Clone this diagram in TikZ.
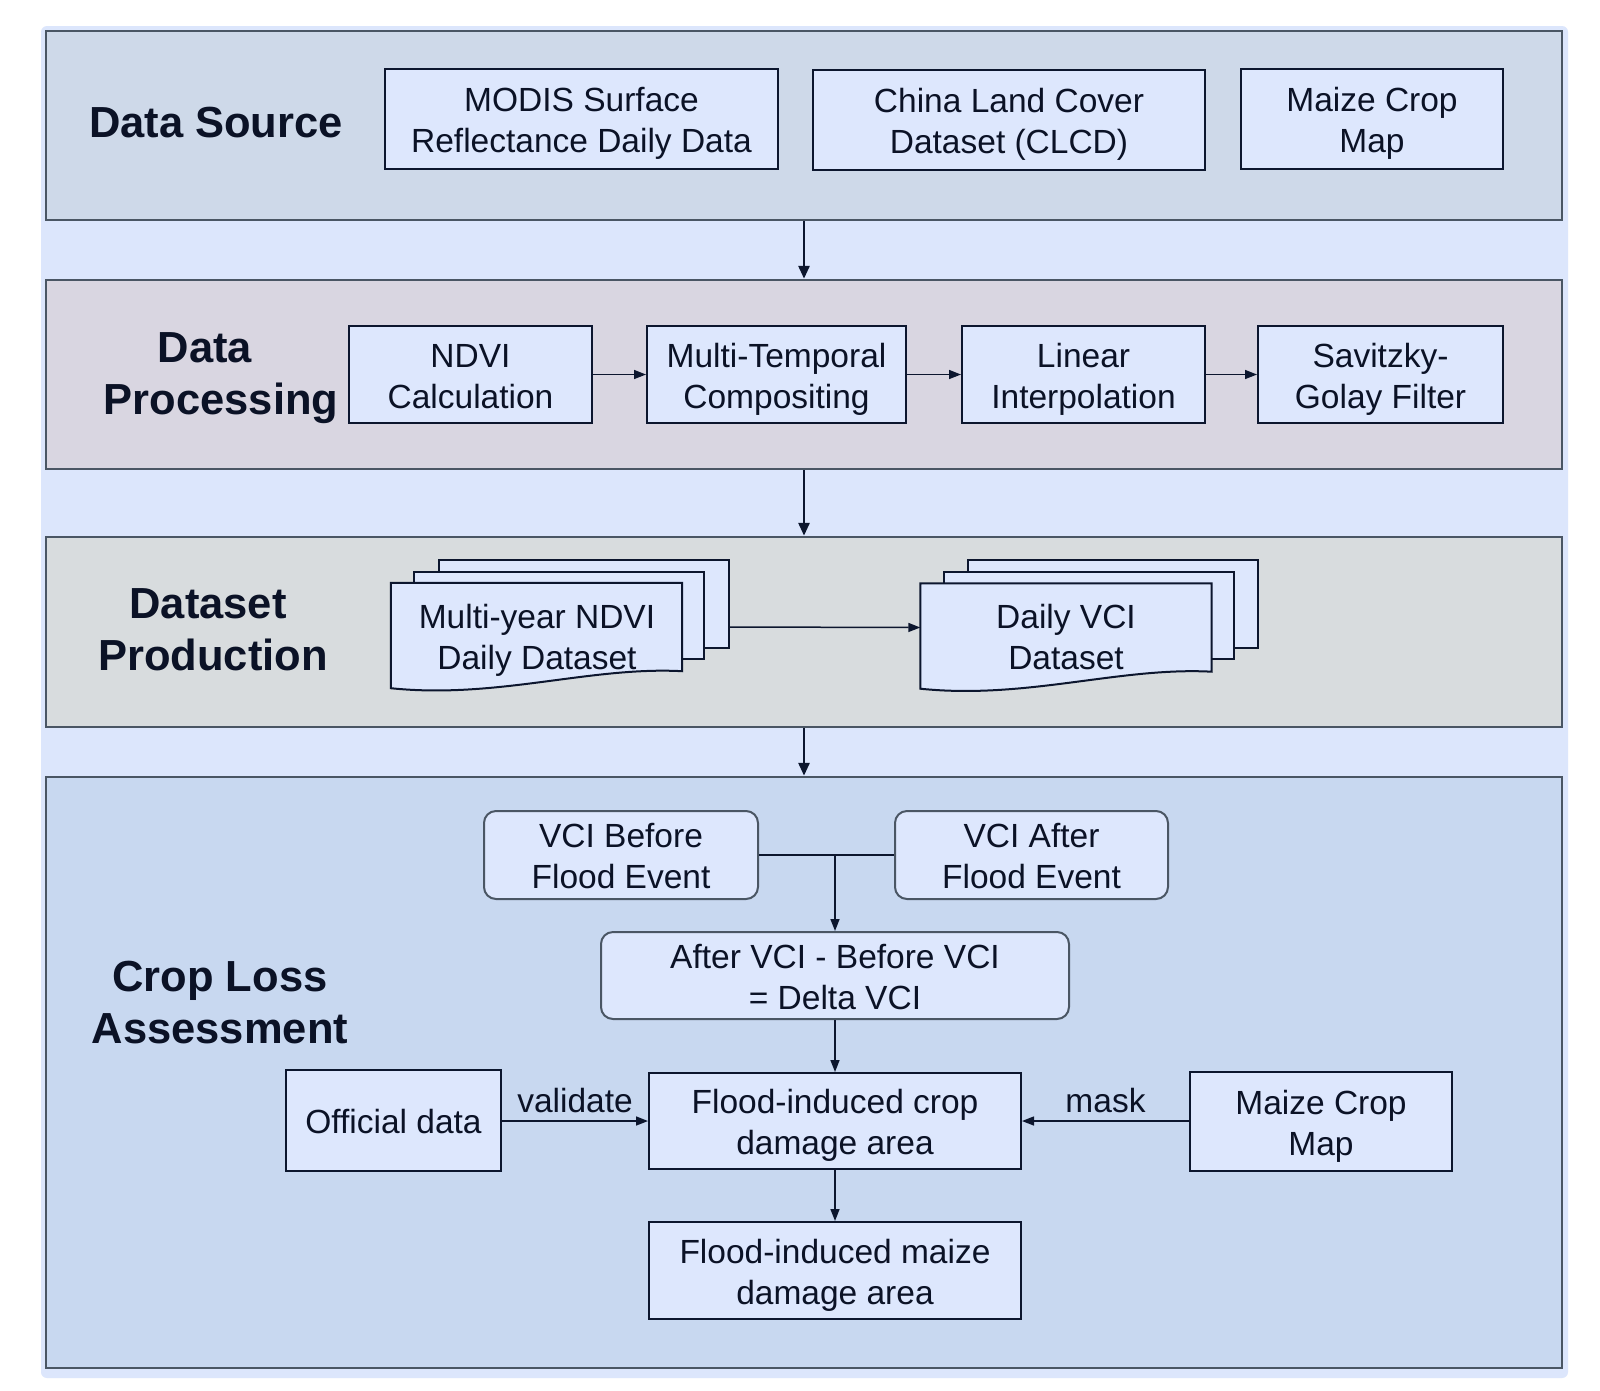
\documentclass[tikz,border=0pt]{standalone}
\usepackage{fontspec}
\setmainfont{Liberation Sans}
\usetikzlibrary{arrows.meta,calc}
\definecolor{outerbg}{HTML}{DCE6FC}
\definecolor{ponefill}{HTML}{CED9E9}
\definecolor{ptwofill}{HTML}{D9D6E1}
\definecolor{pthreefill}{HTML}{D8DCDE}
\definecolor{pfourfill}{HTML}{C8D8F0}
\definecolor{boxfill}{HTML}{DDE7FD}
\definecolor{boxline}{HTML}{0C162E}
\definecolor{panelline}{HTML}{4A5664}
\definecolor{textc}{HTML}{0B1226}
\newcommand{\bodyfnt}{\fontsize{33.5}{41}\selectfont}
\newcommand{\titlefnt}{\fontsize{43.5}{52}\selectfont\bfseries}
\newcommand{\svt}{\rule{0pt}{34pt}}
\newcommand{\svb}{\rule[-8pt]{0pt}{8pt}}
\begin{document}
\begin{tikzpicture}[x=1pt,y=-1pt,
  panel/.style={draw=panelline, line width=2.5pt, inner sep=0pt, minimum width=1516pt},
  ttl/.style={font=\titlefnt, text=textc, align=center, inner sep=0pt},
  box/.style={draw=boxline, fill=boxfill, line width=2pt, inner sep=0pt, align=center, font=\bodyfnt, text=textc},
  rbox/.style={box, draw=panelline, rounded corners=12pt},
  layer/.style={draw=boxline, fill=boxfill, line width=2pt, inner sep=0pt, minimum width=290pt},
  docframe/.style={inner sep=0pt, minimum width=291pt, minimum height=88pt},
  txt/.style={font=\bodyfnt, text=textc, align=center, inner sep=0pt},
  lbl/.style={font=\bodyfnt, text=textc, inner sep=0pt},
  arr/.style={draw=boxline, line width=1.5pt, -{Triangle[length=12pt,width=9pt]}},
  bigarr/.style={draw=boxline, line width=2.8pt, -{Triangle[length=13pt,width=11pt]}},
  ln/.style={draw=boxline, line width=1.5pt}
]
\useasboundingbox (0,0) rectangle (1600,1390);
\fill[white] (0,0) rectangle (1600,1390);
\fill[outerbg, rounded corners=6pt] (41,26) rectangle (1568,1378);

% panels
\node[panel, fill=ponefill, minimum height=189pt] (p1) at (804,125.5) {};
\node[panel, fill=ptwofill, minimum height=189pt] (p2) at (804,374.5) {};
\node[panel, fill=pthreefill, minimum height=190pt] (p3) at (804,632) {};
\node[panel, fill=pfourfill, minimum height=591pt] (p4) at (804,1072.5) {};

% titles
\node[ttl] (t1) at (216,123) {Data Source};
\node[ttl] (t2) at (221,378) {Data\hspace*{32pt}\\Processing};
\node[ttl] (t3) at (213,630) {Dataset\hspace*{10pt}\\Production};
\node[ttl] (t4) at (220,1003) {Crop Loss\\Assessment};

% data source
\node[box, minimum width=393pt, minimum height=100pt] (modis) at (581.5,119) {\svt MODIS Surface\\\svb Reflectance Daily Data};
\node[box, minimum width=392pt, minimum height=100pt] (clcd) at (1009,120) {\svt China Land Cover\\\svb Dataset (CLCD)};
\node[box, minimum width=262pt, minimum height=100pt] (maizeA) at (1372,119) {\svt Maize Crop\\\svb Map};

% data processing
\node[box, minimum width=243pt, minimum height=97pt] (ndvi) at (470.5,374.5) {\svt NDVI\\\svb Calculation};
\node[box, minimum width=259pt, minimum height=97pt] (mtc) at (776.5,374.5) {\svt Multi-Temporal\\\svb Compositing};
\node[box, minimum width=243pt, minimum height=97pt] (lin) at (1083.5,374.5) {\svt Linear\\\svb Interpolation};
\node[box, minimum width=245pt, minimum height=97pt] (sg) at (1380.5,374.5) {\svt Savitzky-\\\svb Golay Filter};
\draw[arr] (ndvi) -- (mtc);
\draw[arr] (mtc) -- (lin);
\draw[arr] (lin) -- (sg);

% dataset production
\node[layer, minimum height=88pt] (ndviB) at (584,604) {};
\node[layer, minimum height=87pt] (ndviM) at (558.5,615.5) {};
\node[docframe] (ndviF) at (536.5,627) {};
\draw[boxline, fill=boxfill, line width=2pt] (ndviF.north west) -- (ndviF.north east) -- (ndviF.south east)
  .. controls ($(ndviF.south east)+(-92,-5)$) and ($(ndviF.south east)+(-185,28)$) .. ($(ndviF.south west)+(0,17)$) -- cycle;
\node[txt] (ndviT) at (537,636) {\svt Multi-year NDVI\\\svb Daily Dataset};

\node[layer, minimum height=88pt] (vciB) at (1113,604) {};
\node[layer, minimum height=87pt] (vciM) at (1089,615.5) {};
\node[docframe] (vciF) at (1066,627.5) {};
\draw[boxline, fill=boxfill, line width=2pt] (vciF.north west) -- (vciF.north east) -- (vciF.south east)
  .. controls ($(vciF.south east)+(-92,-5)$) and ($(vciF.south east)+(-185,28)$) .. ($(vciF.south west)+(0,17)$) -- cycle;
\node[txt] (vciT) at (1066,636) {\svt Daily VCI\\\svb Dataset};
\draw[arr] (ndviB.east |- ndviF.east) -- (vciF.west);

% crop loss assessment
\node[rbox, minimum width=274pt, minimum height=88pt] (vb) at (621,855) {\svt VCI Before\\\svb Flood Event};
\node[rbox, minimum width=273pt, minimum height=88pt] (va) at (1031.5,855) {\svt VCI After\\\svb Flood Event};
\node[rbox, minimum width=468pt, minimum height=87pt] (delta) at (835,975.5) {\svt After VCI - Before VCI\\\svb = Delta VCI};
\node[box, minimum width=215pt, minimum height=101pt] (off) at (393.5,1120.5) {\svt\svb Official data};
\node[box, minimum width=372pt, minimum height=96pt] (fcrop) at (835,1121) {\svt Flood-induced crop\\\svb damage area};
\node[box, minimum width=262pt, minimum height=99pt] (maizeB) at (1321,1121.5) {\svt Maize Crop\\\svb Map};
\node[box, minimum width=372pt, minimum height=97pt] (fmaize) at (835,1270.5) {\svt Flood-induced maize\\\svb damage area};

\draw[ln] (vb.east) -- (va.west);
\draw[arr] (vb.east -| delta.north) -- (delta.north);
\draw[arr] (delta) -- (fcrop);
\draw[arr] (off.east |- fcrop.west) -- node[lbl, above=7pt] {validate} (fcrop.west);
\draw[arr] (maizeB.west |- fcrop.east) -- node[lbl, above=7pt] {mask} (fcrop.east);
\draw[arr] (fcrop) -- (fmaize);

% panel arrows
\draw[bigarr] (p1.south) -- (p2.north);
\draw[bigarr] (p2.south) -- (p3.north);
\draw[bigarr] (p3.south) -- (p4.north);
\end{tikzpicture}
\end{document}
